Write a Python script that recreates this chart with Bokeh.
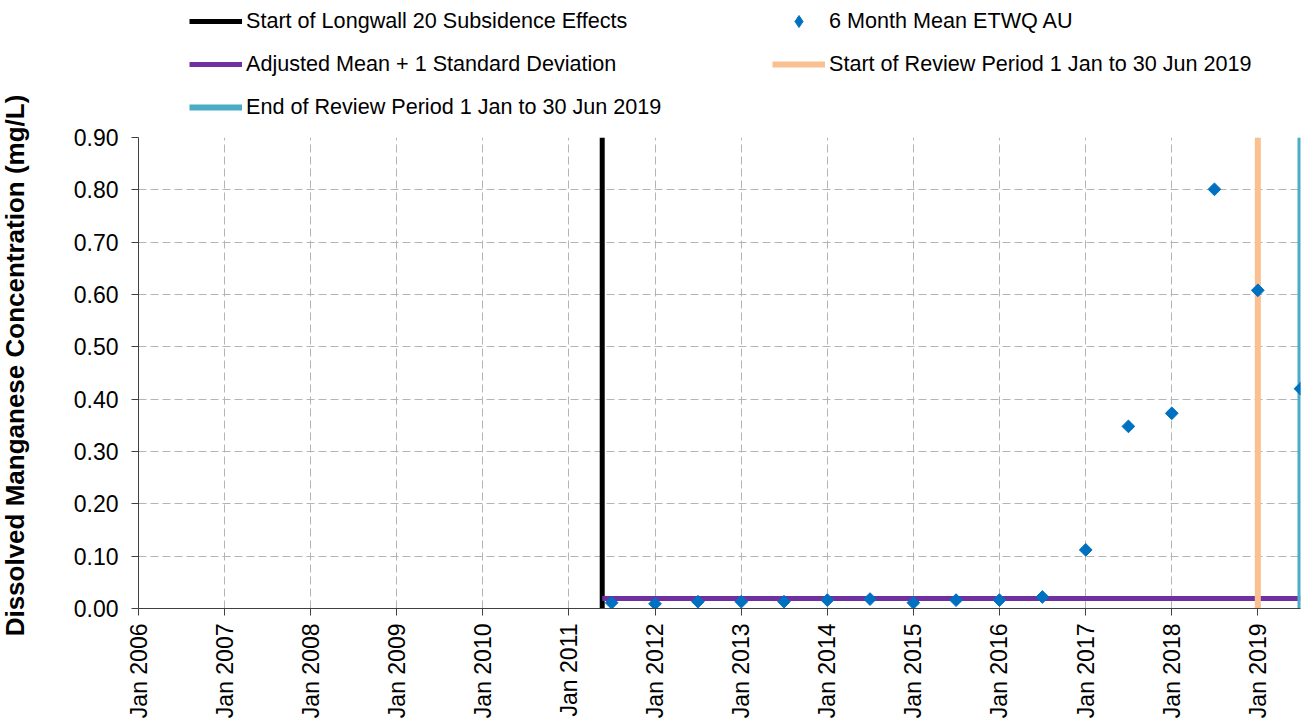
from datetime import datetime
import math
from bokeh.plotting import figure
from bokeh.layouts import column, row
from bokeh.models import (FixedTicker, DatetimeTickFormatter, NumeralTickFormatter,
                          Legend, LegendItem, Range1d, ColumnDataSource, Label)
from bokeh.embed import file_html
from bokeh.resources import INLINE

# ---- data ----
sample_dates = ["2011-07-01", "2012-01-01", "2012-07-01", "2013-01-01", "2013-07-01",
                "2014-01-01", "2014-07-01", "2015-01-01", "2015-07-01", "2016-01-01",
                "2016-07-01", "2017-01-01", "2017-07-01", "2018-01-01", "2018-07-01",
                "2019-01-01", "2019-07-01"]
mean_mn = [0.011, 0.009, 0.013, 0.013, 0.013, 0.016, 0.018, 0.011, 0.016, 0.016,
           0.022, 0.112, 0.348, 0.373, 0.801, 0.608, 0.420]
longwall_start = "2011-05-22"
review_start = "2019-01-01"
review_end = "2019-07-01"
adj_mean_sd = 0.019
x_start = "2006-01-01"
tick_years = list(range(2006, 2020))
y_ticks = [0.0, 0.1, 0.2, 0.3, 0.4, 0.5, 0.6, 0.7, 0.8, 0.9]
y_title = "Dissolved Manganese Concentration (mg/L)"

FONT = "Liberation Sans"
C_LW, C_ADJ, C_RS, C_RE, C_PT = "black", "#7030A0", "#FAC090", "#4BACC6", "#0070C0"
W_LW, W_ADJ, W_RS, W_RE = 5, 5, 6, 6
PT_SIZE = 9

def d(s):
    return datetime.strptime(s, "%Y-%m-%d")

xs = [d(s) for s in sample_dates]
lw = d(longwall_start)
rs = d(review_start)
re_ = d(review_end)
y0, y1 = y_ticks[0], y_ticks[-1]

src_pts = ColumnDataSource(dict(x=xs, y=mean_mn))
src_lw = ColumnDataSource(dict(x=[lw, lw], y=[y0, y1]))
src_adj = ColumnDataSource(dict(x=[lw, re_], y=[adj_mean_sd, adj_mean_sd]))
src_rs = ColumnDataSource(dict(x=[rs, rs], y=[y0, y1]))
src_re = ColumnDataSource(dict(x=[re_, re_], y=[y0, y1]))

TOTAL_W, TOTAL_H, LEG_H, TITLE_W = 1314, 724, 126, 40


def draw_series(fig, marker, angle):
    r_lw = fig.line("x", "y", source=src_lw, line_color=C_LW, line_width=W_LW)
    r_adj = fig.line("x", "y", source=src_adj, line_color=C_ADJ, line_width=W_ADJ)
    r_rs = fig.line("x", "y", source=src_rs, line_color=C_RS, line_width=W_RS)
    r_re = fig.line("x", "y", source=src_re, line_color=C_RE, line_width=W_RE)
    r_pt = fig.scatter("x", "y", source=src_pts, marker=marker, angle=angle,
                       size=PT_SIZE, fill_color=C_PT, line_color=C_PT)
    return r_lw, r_adj, r_rs, r_re, r_pt


# ---- y-axis title strip ----
tf = figure(width=TITLE_W, height=TOTAL_H, x_axis_location=None, y_axis_location=None,
            toolbar_location=None, output_backend="svg", min_border=0,
            x_range=Range1d(0, TITLE_W), y_range=Range1d(0, TOTAL_H))
tf.outline_line_color = None
tf.grid.visible = False
tf.add_layout(Label(x=14, y=TOTAL_H - 365, text=y_title, angle=math.pi / 2,
                    text_align="center", text_baseline="middle", text_font=FONT,
                    text_font_size="26px", text_font_style="bold", text_color="black"))

PLOT_W = TOTAL_W - TITLE_W

# ---- legend strip (series drawn out of its view; only the legend shows) ----
lf = figure(width=PLOT_W, height=LEG_H, x_axis_location=None, y_axis_location=None,
            toolbar_location=None, output_backend="svg", min_border=0,
            x_range=Range1d(0, 1), y_range=Range1d(-2, -1))
lf.outline_line_color = None
lf.grid.visible = False
l_lw, l_adj, l_rs, l_re, l_pt = draw_series(lf, "diamond", 0)

legend = Legend(items=[
    LegendItem(label="Start of Longwall 20 Subsidence Effects", renderers=[l_lw]),
    LegendItem(label="Adjusted Mean + 1 Standard Deviation", renderers=[l_adj]),
    LegendItem(label="End of Review Period 1 Jan to 30 Jun 2019", renderers=[l_re]),
    LegendItem(label="6 Month Mean ETWQ AU", renderers=[l_pt]),
    LegendItem(label="Start of Review Period 1 Jan to 30 Jun 2019", renderers=[l_rs]),
], nrows=3, location=(51, 4))
legend.label_text_font = FONT
legend.label_text_font_size = "21.6px"
legend.label_text_color = "black"
legend.glyph_width = 53
legend.glyph_height = 30
legend.label_height = 20
legend.label_standoff = 4
legend.label_width = 513
legend.spacing = 13
legend.padding = 0
legend.margin = 0
legend.border_line_color = None
legend.background_fill_alpha = 0
lf.add_layout(legend, "center")

# ---- main chart ----
p = figure(width=PLOT_W, height=TOTAL_H - LEG_H, x_axis_type="datetime",
           output_backend="svg", toolbar_location=None,
           x_range=Range1d(d(x_start), re_), y_range=Range1d(y0, y1),
           min_border_left=138 - TITLE_W, min_border_right=14, min_border_top=11,
           min_border_bottom=116)
p.outline_line_color = None

epoch = datetime(1970, 1, 1)
tick_ms = [(datetime(y, 1, 1) - epoch).total_seconds() * 1000 for y in tick_years]
p.xaxis.ticker = FixedTicker(ticks=tick_ms)
fmt = "%b %Y"
p.xaxis.formatter = DatetimeTickFormatter(years=fmt, months=fmt, days=fmt, hours=fmt,
                                          minutes=fmt, seconds=fmt, milliseconds=fmt,
                                          microseconds=fmt, hourmin=fmt, minsec=fmt)
p.xaxis.major_label_orientation = math.pi / 2
p.yaxis.ticker = FixedTicker(ticks=y_ticks)
p.yaxis.formatter = NumeralTickFormatter(format="0.00")

for ax in (p.xaxis, p.yaxis):
    ax.major_label_text_font = FONT
    ax.major_label_text_font_size = "23px"
    ax.major_label_text_color = "black"
    ax.axis_line_color = "#404040"
    ax.major_tick_line_color = "#404040"
    ax.major_tick_out = 7
    ax.major_tick_in = 0
    ax.minor_tick_line_color = None
p.xaxis.major_label_standoff = 8
p.yaxis.major_label_standoff = 13

for g in (p.xgrid, p.ygrid):
    g.grid_line_color = "#b4b4b4"
    g.grid_line_dash = "8 4"
    g.grid_line_width = 1

draw_series(p, "square", math.pi / 4)

layout = row(tf, column(lf, p, spacing=0), spacing=0)
open("out.html", "w").write(file_html(layout, INLINE))
